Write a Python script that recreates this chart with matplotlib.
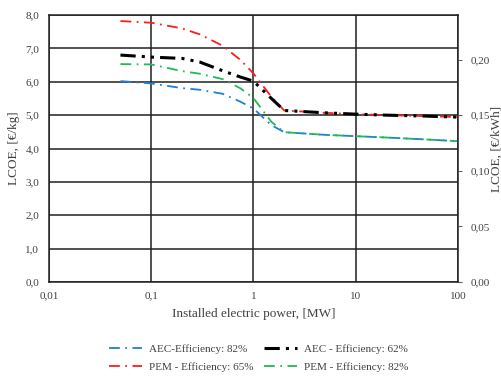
import matplotlib.pyplot as plt
from matplotlib.ticker import FixedLocator, FuncFormatter

plt.rcParams['font.family'] = ['Liberation Serif', 'DejaVu Serif']

# installed power [MW]
power = [0.05, 0.1, 0.2, 0.3, 0.5, 0.75, 1, 1.5, 2, 5, 10, 20, 50, 100]

# LCOE [EUR/kg]
aec_82 = [6.02, 5.95, 5.81, 5.76, 5.64, 5.40, 5.20, 4.70, 4.49, 4.41, 4.37, 4.33, 4.27, 4.22]
aec_62 = [6.80, 6.74, 6.70, 6.59, 6.33, 6.14, 6.02, 5.50, 5.14, 5.07, 5.03, 5.00, 4.97, 4.94]
pem_65 = [7.82, 7.77, 7.60, 7.42, 7.08, 6.65, 6.25, 5.55, 5.14, 5.07, 5.03, 5.00, 4.97, 4.94]
pem_82 = [6.53, 6.52, 6.32, 6.24, 6.08, 5.80, 5.51, 4.80, 4.49, 4.41, 4.37, 4.33, 4.27, 4.22]

x_ticks = [0.01, 0.1, 1, 10, 100]
x_labels = ['0,01', '0,1', '1', '10', '100']
y_ticks = [0, 1, 2, 3, 4, 5, 6, 7, 8]
y2_ticks = [0.0, 0.05, 0.10, 0.15, 0.20]

txt = '#404040'

fig = plt.figure(figsize=(5.02, 3.76), dpi=100)
ax = fig.add_axes([0.0976, 0.25, 0.8144, 0.71])

l1, = ax.plot(power, aec_82, color='#1f7fd6', lw=1.3, dashes=(6, 3, 1, 3), label='AEC-Efficiency: 82%')
l3, = ax.plot(power, pem_82, color='#1fb85a', lw=1.3, dashes=(6, 3, 1, 3), label='PEM - Efficiency: 82%')
l2, = ax.plot(power, pem_65, color='#ff1a1a', lw=1.3, dashes=(6, 3, 1, 3), label='PEM - Efficiency: 65%')
l4, = ax.plot(power, aec_62, color='black', lw=2.2, dashes=(5, 2, 1, 2, 1, 2), label='AEC - Efficiency: 62%')

ax.set_xscale('log')
ax.set_xlim(0.01, 100)
ax.set_ylim(0, 8)
ax.xaxis.set_major_locator(FixedLocator(x_ticks))
ax.xaxis.set_minor_locator(FixedLocator([]))
ax.set_xticklabels(x_labels)
ax.set_yticks(y_ticks)
ax.yaxis.set_major_formatter(FuncFormatter(lambda v, p: f'{v:.1f}'.replace('.', ',')))
ax.grid(True, color='#202020', lw=1.1)
ax.set_axisbelow(True)
ax.tick_params(axis='both', length=0, labelsize=8, labelcolor=txt, pad=7)
for s in ax.spines.values():
    s.set_color('#202020')
    s.set_linewidth(1.1)

ax.set_xlabel('Installed electric power, [MW]', fontsize=9.5, color=txt, labelpad=5)
ax.set_ylabel('LCOE, [€/kg]', fontsize=9.5, color=txt, labelpad=4)

ax2 = ax.twinx()
ax2.set_ylim(0, 0.24)
ax2.set_yticks(y2_ticks)
ax2.yaxis.set_major_formatter(FuncFormatter(lambda v, p: f'{v:.2f}'.replace('.', ',')))
ax2.tick_params(axis='y', length=3, width=0.8, color='#606060', labelsize=8, labelcolor=txt, pad=6)
ax2.set_ylabel('LCOE, [€/kWh]', fontsize=9.5, color=txt, labelpad=1)
for s in ax2.spines.values():
    s.set_visible(False)

fig.legend(handles=[l1, l2, l4, l3], loc='lower center', bbox_to_anchor=(0.515, -0.015),
           ncol=2, frameon=False, fontsize=8, labelcolor=txt, handlelength=3,
           columnspacing=0.9, handletextpad=0.6, labelspacing=0.75)

fig.savefig('out.png', dpi=100)
